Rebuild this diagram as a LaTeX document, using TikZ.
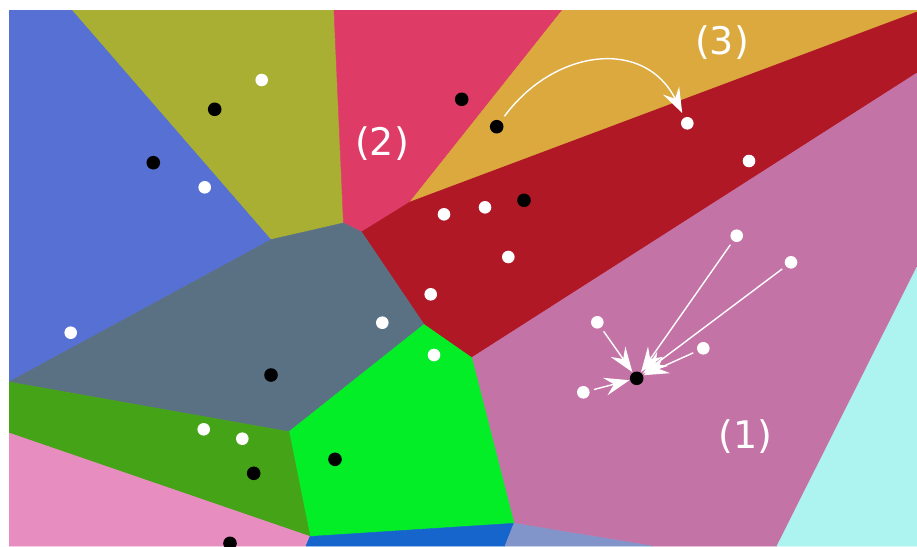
\documentclass[tikz,border=0pt]{standalone}
\usepackage{fontspec}
\setmainfont{DejaVu Sans}
\usetikzlibrary{arrows.meta}
\definecolor{cBlue}{HTML}{5670D4}
\definecolor{cOlive}{HTML}{A8AF32}
\definecolor{cRose}{HTML}{DE3C67}
\definecolor{cOrange}{HTML}{DCA93F}
\definecolor{cRed}{HTML}{B01825}
\definecolor{cMauve}{HTML}{C473A6}
\definecolor{cCyan}{HTML}{ADF4F0}
\definecolor{cGray}{HTML}{5A7184}
\definecolor{cLime}{HTML}{04EE27}
\definecolor{cDkGreen}{HTML}{45A317}
\definecolor{cPink}{HTML}{E88DC0}
\definecolor{cDeepBlue}{HTML}{1565CC}
\definecolor{cLightBlue}{HTML}{8195CB}
\begin{document}
\begin{tikzpicture}[x=1pt,y=-1pt,
  cell/.style={fill=#1,draw=#1,line width=0.5pt,line join=round},
  wdot/.style={circle,fill=white,inner sep=0pt,minimum size=12.6pt},
  bdot/.style={circle,fill=black,inner sep=0pt,minimum size=13.6pt},
  arr/.style={draw=white,line width=1.4pt,-{Stealth[length=25pt,width=18pt,inset=9pt]},shorten <=4.5pt,shorten >=0.5pt},
  lab/.style={text=white,font=\fontsize{38}{40}\selectfont,inner sep=0pt}]
\useasboundingbox (0,0) rectangle (917,546);
\fill[white] (0,0) rectangle (917,546);
\begin{scope}
\clip (9,10) rectangle (917,546);
\path[cell=cBlue] (9,10) -- (72.5,10) -- (271.5,239.5) -- (9,382) -- cycle;
\path[cell=cOlive] (72.5,10) -- (334,10) -- (343.5,223) -- (271.5,239.5) -- cycle;
\path[cell=cRose] (334,10) -- (562.5,10) -- (410,202) -- (361.5,232) -- (343.5,223) -- cycle;
\path[cell=cOrange] (562.5,10) -- (917,10) -- (917,12) -- (410,202) -- cycle;
\path[cell=cRed] (410,202) -- (917,12) -- (917,73) -- (471.7,357.7) -- (424,324.5) -- (361.5,232) -- cycle;
\path[cell=cMauve] (471.7,357.7) -- (917,73) -- (917,267) -- (777,546) -- (652,546) -- (514,523.3) -- cycle;
\path[cell=cCyan] (917,267) -- (917,546) -- (777,546) -- cycle;
\path[cell=cGray] (9,382) -- (271.5,239.5) -- (343.5,223) -- (361.5,232) -- (424,324.5) -- (289,431.7) -- cycle;
\path[cell=cLime] (424,324.5) -- (471.7,357.7) -- (514,523.3) -- (310,536.5) -- (289,431.7) -- cycle;
\path[cell=cDkGreen] (9,382) -- (289,431.7) -- (310,536.5) -- (9,433) -- cycle;
\path[cell=cPink] (9,433) -- (310,536.5) -- (306,546) -- (9,546) -- cycle;
\path[cell=cDeepBlue] (310,536.5) -- (514,523.3) -- (505,546) -- (306,546) -- cycle;
\path[cell=cLightBlue] (514,523.3) -- (652,546) -- (505,546) -- cycle;

% white points
\node[wdot] (w1) at (261.7,80) {};
\node[wdot] (w2) at (204.7,187.3) {};
\node[wdot] (w3) at (70.7,332.7) {};
\node[wdot] (w4) at (444,214.3) {};
\node[wdot] (w5) at (485,207.3) {};
\node[wdot] (w6) at (508.3,257) {};
\node[wdot] (w7) at (430.7,294.3) {};
\node[wdot] (w8) at (382.3,322.7) {};
\node[wdot] (w9) at (434,355) {};
\node[wdot] (w10) at (203.7,429.3) {};
\node[wdot] (w11) at (242.3,438.7) {};
\node[wdot] (w12) at (687.3,123.3) {};
\node[wdot] (w13) at (749,161) {};
\node[wdot] (w14) at (736.7,235.7) {};
\node[wdot] (w15) at (791,262.3) {};
\node[wdot] (w16) at (597.3,322.3) {};
\node[wdot] (w17) at (703.3,348.3) {};
\node[wdot] (w18) at (583.3,392.3) {};

% black points
\node[bdot] (b1) at (214.7,109.3) {};
\node[bdot] (b2) at (153.3,162.7) {};
\node[bdot] (b3) at (461.7,99.3) {};
\node[bdot] (b4) at (496.7,126.7) {};
\node[bdot] (b5) at (524,200.3) {};
\node[bdot] (b6) at (271,375) {};
\node[bdot] (b7) at (253.7,473.3) {};
\node[bdot] (b8) at (335,459.3) {};
\node[bdot] (b9) at (230,543.3) {};
\node[bdot] (b10) at (636.7,378.3) {};
\end{scope}

% arrows
\draw[arr] (w16) -- (b10);
\draw[arr] (w14) -- (b10);
\draw[arr] (w15) -- (b10);
\draw[arr] (w17) -- (b10);
\draw[arr] (w18) -- (b10);
\draw[arr,shorten <=6pt,shorten >=5pt] (b4) .. controls (555,48) and (645,38) .. (w12);

% labels
\node[lab] (l1) at (745.7,436.7) {(1)};
\node[lab] (l2) at (382,143.3) {(2)};
\node[lab] (l3) at (722,43) {(3)};
\end{tikzpicture}
\end{document}
